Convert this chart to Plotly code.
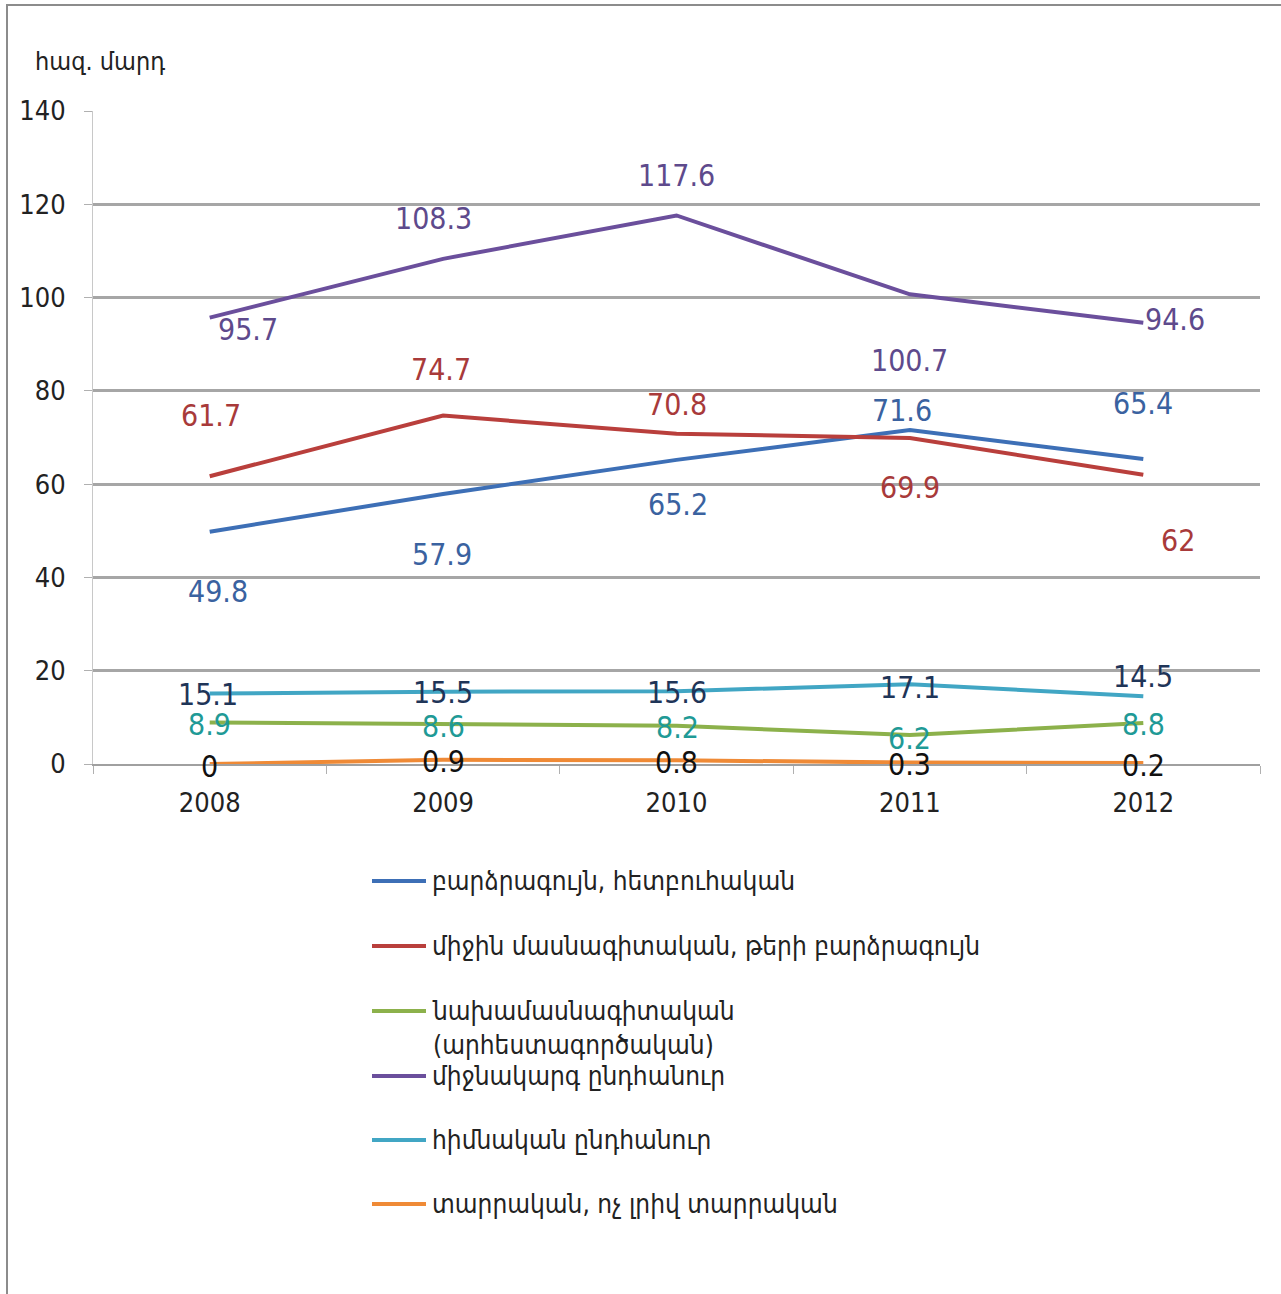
import plotly.graph_objects as go

years = ["2008", "2009", "2010", "2011", "2012"]

series_names = [
    "բարձրագույն, հետբուհական",
    "միջին մասնագիտական, թերի բարձրագույն",
    "նախամասնագիտական<br>(արհեստագործական)",
    "միջնակարգ ընդհանուր",
    "հիմնական ընդհանուր",
    "տարրական, ոչ լրիվ տարրական",
]
higher = [49.8, 57.9, 65.2, 71.6, 65.4]
secondary_prof = [61.7, 74.7, 70.8, 69.9, 62]
preprof = [8.9, 8.6, 8.2, 6.2, 8.8]
general_secondary = [95.7, 108.3, 117.6, 100.7, 94.6]
basic_general = [15.1, 15.5, 15.6, 17.1, 14.5]
primary = [0, 0.9, 0.8, 0.3, 0.2]

y_ticks = [0, 20, 40, 60, 80, 100, 120, 140]
unit_label = "հազ. մարդ"

series_values = [higher, secondary_prof, preprof, general_secondary, basic_general, primary]
line_colors = ["#3d6fb6", "#b93f3c", "#8cb14b", "#6b4f9c", "#41a6c4", "#ef8a36"]
label_colors = ["#3a62a0", "#a83a3a", "#1f9a96", "#5e4a8c", "#1f3558", "#111111"]

# label offsets (pixels) per series per point
label_shifts = [
    [(8, -60), (-1, -61), (1, -45), (-8, 20), (0, 55)],
    [(1, 61), (-2, 46), (0, 29), (0, -50), (35, -66)],
    [(0, -2), (0, -3), (1, -2), (0, -3), (0, -2)],
    [(38, -12), (-10, 40), (0, 40), (0, -66), (32, 3)],
    [(-2, -1), (0, -1), (0, -1), (0, -3), (0, 20)],
    [(0, -2), (0, -2), (0, -2), (0, -2), (0, -2)],
]

W, H = 1281, 1294
L, R, T, B = 93, 21, 111, 530
pw, ph = W - L - R, H - T - B

fig = go.Figure()
annotations = []
for name, vals, lc, tc, shifts in zip(series_names, series_values, line_colors, label_colors, label_shifts):
    fig.add_trace(go.Scatter(x=years, y=vals, mode="lines", name=name,
                             line=dict(color=lc, width=4), showlegend=False, hoverinfo="skip"))
    for i, (yv, (dx, dy)) in enumerate(zip(vals, shifts)):
        annotations.append(dict(x=i, y=yv, xref="x", yref="y", text=f"{yv:g}",
                                showarrow=False, xshift=dx, yshift=dy,
                                font=dict(family="Liberation Sans Narrow, DejaVu Sans Condensed, sans-serif",
                                          size=30, color=tc)))

# unit label
annotations.append(dict(x=(33 - L) / pw, y=(764 - 62) / ph, xref="paper", yref="paper",
                        text=unit_label, showarrow=False, xanchor="left", yanchor="middle",
                        font=dict(family="DejaVu Sans Condensed, DejaVu Sans", size=25, color="#222")))

# manual legend
shapes = []
legend_y = [881, 946, 1011, 1076, 1140, 1204]
for name, lc, py in zip(series_names, line_colors, legend_y):
    yp = (764 - py) / ph
    shapes.append(dict(type="line", xref="paper", yref="paper",
                       x0=(372 - L) / pw, x1=(426 - L) / pw, y0=yp, y1=yp,
                       line=dict(color=lc, width=4)))
    two = "<br>" in name
    annotations.append(dict(x=(430 - L) / pw, y=yp, xref="paper", yref="paper",
                            text=name, showarrow=False, xanchor="left",
                            yanchor="top" if two else "middle",
                            yshift=17 if two else 0,
                            align="left",
                            font=dict(family="DejaVu Sans Condensed, DejaVu Sans", size=26, color="#222")))

# outer border
shapes.append(dict(type="rect", xref="paper", yref="paper",
                   x0=(7 - L) / pw, x1=(1290 - L) / pw, y0=(764 - 1300) / ph, y1=(764 - 5) / ph,
                   line=dict(color="#8c8c8c", width=2), fillcolor="rgba(0,0,0,0)"))

fig.update_layout(
    width=W, height=H,
    margin=dict(l=L, r=R, t=T, b=B),
    paper_bgcolor="white", plot_bgcolor="white",
    annotations=annotations, shapes=shapes,
    showlegend=False,
    xaxis=dict(type="category", range=[-0.5, 4.5], showgrid=False, showline=True,
               linecolor="#a0a0a0", linewidth=2, ticks="outside", tickson="boundaries",
               ticklen=8, tickcolor="#b0b0b0", tickwidth=1, ticklabelstandoff=14,
               tickfont=dict(family="DejaVu Sans Condensed, DejaVu Sans", size=27, color="#222"),
               zeroline=False),
    yaxis=dict(range=[0, 140], tickvals=y_ticks, showgrid=True, gridcolor="#a6a6a6", gridwidth=2.5,
               showline=True, linecolor="#c8c8c8", linewidth=1, ticks="outside", ticklen=8,
               tickcolor="#b0b0b0", ticklabelstandoff=13, zeroline=False,
               tickfont=dict(family="DejaVu Sans Condensed, DejaVu Sans", size=27, color="#222")),
)

fig.write_html("out.html", post_script="document.body.style.margin='0';",
               config={"displayModeBar": False})
